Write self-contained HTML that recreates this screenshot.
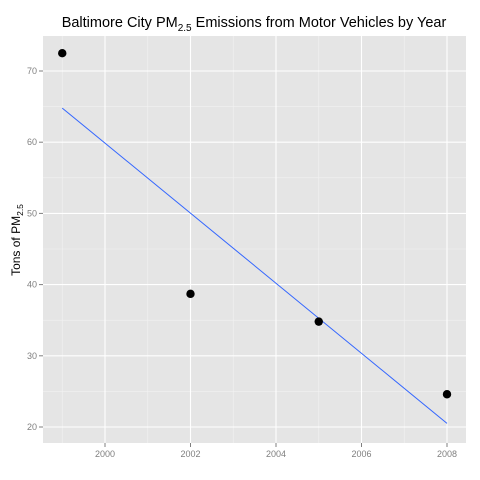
<!DOCTYPE html>
<html><head><meta charset="utf-8"><style>
body{margin:0;background:#fff;}
svg{display:block;font-family:"Liberation Sans",sans-serif;}
</style></head><body>
<svg id="chart" width="480" height="480">
<rect x="0" y="0" width="480" height="480" fill="#fff"/>
<rect id="panel" x="43" y="36" width="423" height="407" fill="#e5e5e5"/>
<g id="grid"></g><g id="axes"></g><g id="marks"></g>
<text x="254" y="27" text-anchor="middle" font-size="14.5">Baltimore City PM<tspan font-size="10" dy="4">2.5</tspan><tspan dy="-4"> Emissions from Motor Vehicles by Year</tspan></text>
<text transform="translate(20,240) rotate(-90)" text-anchor="middle" font-size="12">Tons of PM<tspan font-size="8.5" dy="3">2.5</tspan></text>
</svg>
<script>
const years=[1999,2002,2005,2008];
const emissions=[72.5,38.7,34.8,24.6];
const xTicks=[2000,2002,2004,2006,2008];
const yTicks=[20,30,40,50,60,70];
const NS="http://www.w3.org/2000/svg";
const sx=v=>105+(v-2000)*42.75;
const sy=v=>427-(v-20)*7.12;
function mk(p,t,a){const e=document.createElementNS(NS,t);for(const k in a)e.setAttribute(k,a[k]);document.getElementById(p).appendChild(e);return e;}
const L=43,R=466,T=36,B=443;
// minor grid
for(let i=0;i<xTicks.length+1;i++){const v=xTicks[0]-1+i*2;const x=sx(v);if(x>L&&x<R){const e=mk('grid','line',{x1:x,x2:x,y1:T,y2:B,stroke:'#f2f2f2','stroke-width':0.6});

}}
for(let i=0;i<yTicks.length+1;i++){const v=yTicks[0]-5+i*10;const y=sy(v);if(y>T&&y<B){const e=mk('grid','line',{x1:L,x2:R,y1:y,y2:y,stroke:'#f2f2f2','stroke-width':0.6});

}}
xTicks.forEach(v=>{const x=sx(v);
const g=mk('grid','line',{x1:x,x2:x,y1:T,y2:B,stroke:'#fff','stroke-width':1.1});


const t=mk('axes','line',{x1:x,x2:x,y1:B,y2:B+4,stroke:'#7f7f7f'});


const l=mk('axes','text',{x:x,y:B+14,'text-anchor':'middle','font-size':9,fill:'#7f7f7f'});l.textContent=v;

});
yTicks.forEach(v=>{const y=sy(v);
const g=mk('grid','line',{x1:L,x2:R,y1:y,y2:y,stroke:'#fff','stroke-width':1.1});


const t=mk('axes','line',{x1:L-4,x2:L,y1:y,y2:y,stroke:'#7f7f7f'});


const l=mk('axes','text',{x:L-6,y:y+3,'text-anchor':'end','font-size':9,fill:'#7f7f7f'});l.textContent=v;

});
// regression
const n=years.length,mx=years.reduce((a,b)=>a+b)/n,my=emissions.reduce((a,b)=>a+b)/n;
let sxy=0,sxx=0;years.forEach((x,i)=>{sxy+=(x-mx)*(emissions[i]-my);sxx+=(x-mx)*(x-mx);});
const slope=sxy/sxx,ic=my-slope*mx;
const x0=years[0],x1=years[n-1];
const ln=mk('marks','line',{x1:sx(x0),y1:sy(ic+slope*x0),x2:sx(x1),y2:sy(ic+slope*x1),stroke:'#3366ff','stroke-width':1});


years.forEach((x,i)=>{const c=mk('marks','circle',{cx:sx(x),cy:sy(emissions[i]),r:4.2,fill:'#000'});

});
</script>
</body></html>
